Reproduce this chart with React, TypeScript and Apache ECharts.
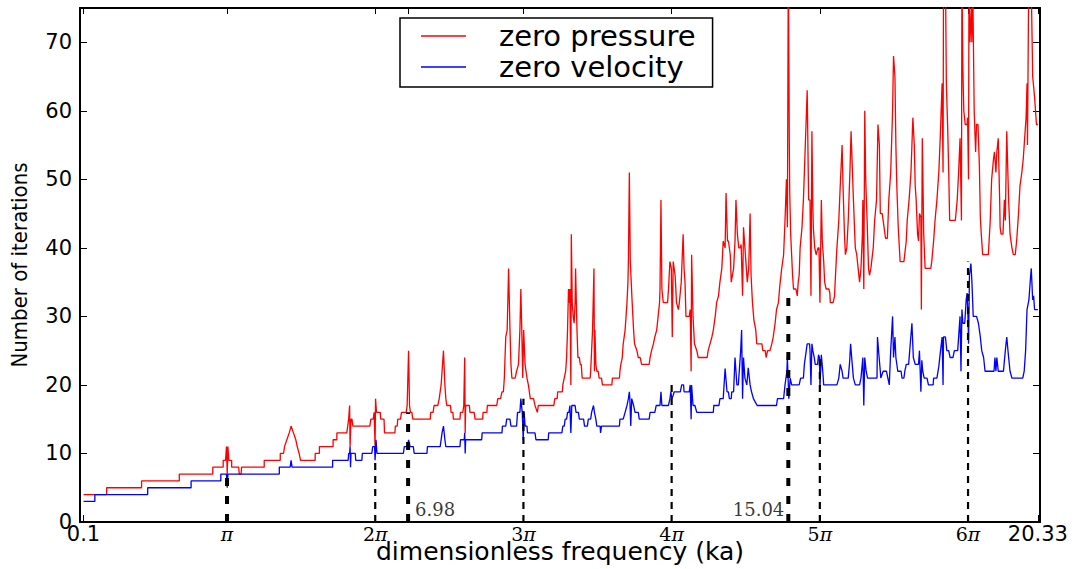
import React, { useEffect, useRef } from "react";
import * as echarts from "echarts";

const PI = Math.PI;

const xTickValues = [0.1, PI, 2 * PI, 3 * PI, 4 * PI, 5 * PI, 6 * PI, 20.33];
const xTickLabels = ["0.1", "π", "2π", "3π", "4π", "5π", "6π", "20.33"];
const xExtraTicks = [6.98, 15.04];
const yTickValues = [0, 10, 20, 30, 40, 50, 60, 70];
const seriesNames = ["zero pressure", "zero velocity"];

const guideX = [PI, 2 * PI, 6.98, 3 * PI, 4 * PI, 15.04, 5 * PI, 6 * PI];
const guideTop = [7, 9, 16, 18, 20, 34, 24.5, 38];
const guideBold = [true, false, true, false, false, true, false, false];

const annotationX = [6.98, 15.04];
const annotationText = ["6.98", "15.04"];
const annotationSide = ["right", "left"];

const zeroPressure: number[][] = [
  [0.1,4],[0.59,4],[0.59,5],[1.33,5],[1.33,6],[2.13,6],[2.13,7],[2.84,7],[2.84,8],[3.06,8],[3.06,9],[3.11,9],[3.13,11],[3.146,7],[3.16,11],[3.18,9],[3.24,9],[3.24,8],[3.39,8],[3.40,7],[3.44,7],[3.45,8],[3.93,8],[3.93,9],[4.27,9],[4.27,10],[4.34,10],[4.36,11],[4.41,12],[4.46,13],[4.50,14],[4.55,13],[4.60,12],[4.63,11],[4.67,10],[4.70,9],[5.01,9],[5.01,10],[5.10,10],[5.10,11],[5.39,11],[5.39,12],[5.47,12],[5.47,13],[5.68,13],[5.70,14],[5.72,15],[5.74,17],[5.75,11],[5.77,15],[5.79,15],[5.81,14],
  [6.17,14],[6.19,15],[6.24,15],[6.26,16],[6.28,11],[6.29,18],[6.31,16],[6.39,16],[6.40,15],[6.47,15],[6.48,13],[6.70,13],[6.71,14],[6.75,14],[6.76,15],[6.82,15],[6.84,16],[6.94,16],[6.96,17],[6.99,25],[7.01,17],[7.03,16],[7.06,16],[7.08,15],[7.45,15],[7.46,16],[7.51,16],[7.53,17],[7.61,17],[7.64,18],[7.68,20],[7.73,25],[7.76,20],[7.78,18],[7.80,17],[7.88,17],[7.89,16],[7.93,16],[7.94,15],[8.08,15],[8.09,16],[8.14,16],[8.16,17],[8.18,24],[8.19,13],[8.20,17],[8.28,17],[8.29,16],[8.38,16],[8.40,15],[8.56,15],[8.57,16],[8.65,16],[8.66,17],[8.86,17],[8.88,18],[8.94,18],[8.97,19],[9.00,19],[9.02,21],[9.05,27],[9.08,28],[9.11,37],[9.14,28],[9.16,23],[9.18,21],[9.25,21],[9.28,22],[9.32,23],[9.35,28],[9.37,34],[9.39,28],[9.41,21],[9.43,28],[9.46,23],[9.50,21],[9.53,20],[9.57,18],[9.64,18],[9.67,17],[9.72,16],[9.74,17],[10.07,17],[10.09,18],[10.14,18],[10.15,19],[10.25,19],
  [10.26,20],[10.29,21],[10.32,22],[10.34,24],[10.36,28],[10.38,34],[10.40,32],[10.41,34],[10.43,20],[10.44,42],[10.46,32],[10.48,30],[10.50,29],[10.52,32],[10.53,37],[10.56,28],[10.58,24],[10.61,24],[10.63,23],[10.65,23],[10.66,22],[10.67,21],[10.84,21],[10.85,22],[10.87,25],[10.89,28],[10.92,37],[10.93,22],[10.94,28],[10.96,23],[10.98,22],[11.01,22],[11.03,21],[11.08,21],[11.10,20],[11.30,20],[11.31,21],[11.46,21],[11.47,22],[11.49,23],[11.52,24],[11.54,26],[11.58,28],[11.62,32],[11.64,35],[11.65,38],[11.67,51],[11.69,38],[11.71,35],[11.73,32],[11.76,28],[11.78,26],[11.83,25],[11.86,24],[11.90,24],[11.93,23],[12.09,23],[12.11,24],[12.14,25],[12.18,26],[12.21,27],[12.25,28],[12.28,30],[12.31,32],[12.32,34],[12.34,47],[12.36,34],[12.39,32],[12.48,32],[12.50,34],[12.53,38],[12.56,37],[12.58,27],[12.60,38],[12.64,36],[12.67,32],[12.71,31],[12.73,32],[12.77,35],[12.81,42],[12.83,37],[12.85,35],[12.87,30],[12.94,30],[12.96,31],[12.98,22],[12.99,39],[13.02,30],[13.05,26],[13.10,25],[13.13,24],[13.32,24],[13.34,25],[13.38,26],[13.42,27],[13.45,28],[13.49,30],[13.52,32],[13.56,33],[13.59,35],[13.63,37],[13.66,41],[13.70,40],[13.72,48],[13.75,41],[13.77,41],[13.81,39],[13.83,35],[13.88,37],[13.91,41],[13.93,47],[13.96,42],[13.99,40],[14.02,40],[14.04,40.5],[14.07,33],[14.09,43],[14.12,40],[14.16,36],[14.17,35],[14.20,37],[14.23,45],[14.25,36],[14.28,32],[14.31,29.5],[14.35,28],[14.37,26],[14.48,26],[14.50,25],[14.55,25],[14.57,24],[14.60,25],[14.65,25],[14.69,26],[14.72,27],[14.76,29],[14.79,31],[14.83,32],[14.86,34.5],[14.90,37],[14.94,39],[14.97,44],[14.99,48],[15.00,50],[15.02,43],[15.04,82],
  [15.06,56],[15.07,48],[15.09,42],[15.11,39],[15.13,36],[15.15,34],[15.20,34],[15.23,33],[15.25,35],[15.27,36],[15.29,40],[15.33,43],[15.36,47],[15.44,63],[15.47,47],[15.50,47],[15.52,33],[15.54,57],[15.56,46],[15.57,43],[15.60,40],[15.63,39],[15.67,40],[15.69,40],[15.71,32],[15.74,47],[15.76,41],[15.79,38],[15.81,35],[15.84,34],[15.90,34],[15.92,33.4],[15.93,32],[15.99,32],[16.02,33],[16.04,36],[16.07,40],[16.11,44],[16.14,49],[16.18,55],[16.20,49],[16.23,42],[16.25,39],[16.28,40],[16.31,44],[16.35,52],[16.37,57],[16.39,53],[16.42,47],[16.46,40],[16.49,39],[16.52,37],[16.55,35],[16.58,37],[16.61,42],[16.62,47],[16.64,34],[16.66,60],[16.68,50],[16.71,44],[16.74,37],[16.76,36],[16.79,37],[16.84,40],[16.87,44],[16.91,47],[16.94,58],[16.97,55],[16.99,45],[17.03,45],[17.07,43],[17.10,41.4],[17.14,41.4],[17.17,47],[17.21,51],[17.25,60],[17.27,68],[17.30,65],[17.32,55],[17.34,49],[17.37,43],[17.41,38],[17.49,38],[17.54,41],[17.56,44],[17.60,47],[17.64,51],[17.66,55],[17.68,59],[17.71,55],[17.73,49],[17.75,47],[17.78,42],[17.80,41],[17.82,45],[17.85,44.5],[17.86,31],[17.88,56],[17.91,42],[17.94,37],[18.06,37],[18.08,38],[18.12,41],[18.15,44],[18.19,47],[18.23,51],[18.26,56],[18.30,64],[18.32,51],[18.33,80],[18.37,80],[18.39,64],[18.42,57],[18.44,51],[18.46,44],[18.58,44],[18.62,47],[18.65,51],[18.68,56],[18.71,44],[18.72,80],[18.74,66],[18.76,60],[18.79,58],[18.83,58],[18.84,59],[18.86,50],[18.87,80],[18.89,70],[18.92,75],[18.93,70],[18.95,78],[18.98,60],[19.01,54],[19.02,54],[19.03,58],[19.06,58],[19.09,52],[19.11,44.5],[19.13,42],[19.16,39],[19.28,39],[19.32,44],[19.35,50],[19.39,53],[19.41,54],[19.44,51],[19.46,54],[19.49,56],[19.52,47],[19.53,43],[19.55,42],[19.59,42],[19.62,47],[19.64,44],[19.67,57],[19.71,47],[19.74,42],[19.78,40],[19.81,39],[19.85,39],[19.88,41],[19.92,45],[19.95,49],[19.99,51],[20.02,53],[20.06,57],[20.08,59],[20.10,64],[20.11,55],[20.13,74],[20.15,80],[20.19,78],[20.22,65],[20.26,62],[20.30,58],[20.33,58]
];

const zeroVelocity: number[][] = [
  [0.1,3],[0.34,3],[0.34,4],[1.46,4],[1.46,5],[2.38,5],[2.38,6],[3.01,6],[3.01,7],[3.13,7],[3.146,5],[3.16,7],[4.25,7],[4.25,8],[4.48,8],[4.50,9],[4.52,8],[5.38,8],[5.38,9],[5.71,9],[5.72,10],[5.74,10],[5.75,11],[5.76,8],[5.77,10],[5.86,10],[5.87,9],[6.00,9],[6.01,10],[6.21,10],[6.23,11],[6.27,11],[6.28,9],[6.30,12],[6.32,10],[6.88,10],[6.90,11],[6.97,11],[6.99,12],[7.02,11],[7.09,11],[7.11,10],[7.38,10],[7.39,11],[7.66,11],[7.70,13],[7.73,14],[7.76,12],[7.78,11],[8.08,11],[8.09,12],[8.17,12],[8.18,13],[8.19,10],[8.20,12],[8.54,12],[8.55,13],[8.97,13],[8.98,14],[9.05,14],[9.07,15],[9.14,15],[9.16,14],[9.28,14],[9.30,16],[9.35,16],[9.37,18],[9.40,16],[9.42,12],[9.44,16],[9.46,14],[9.50,14],[9.51,13],[9.67,13],[9.69,12],[9.95,12],[9.96,13],[10.24,13],
  [10.26,14],[10.29,14],[10.31,15],[10.34,15],[10.36,16],[10.39,16],[10.41,17],[10.43,13],[10.45,17],[10.52,17],[10.54,16],[10.59,16],[10.61,15],[10.70,15],[10.72,14],[10.78,14],[10.80,15],[10.85,15],[10.87,16],[10.91,17],[10.93,16],[10.96,15],[10.98,14],[11.05,14],[11.06,13],[11.08,14],[11.46,14],[11.47,15],[11.54,15],[11.58,16],[11.62,17],[11.65,18],[11.67,19],[11.68,18],[11.70,14],[11.72,18],[11.76,17],[11.79,16],[11.86,16],[11.88,15],[12.09,15],[12.11,16],[12.21,16],[12.24,17],[12.32,17],[12.34,19],[12.36,17],[12.50,17],[12.53,18],[12.55,19],[12.57,18],[12.60,18.5],[12.62,19],[12.75,19],[12.78,20],[12.82,20],[12.83,19],[12.94,19],[12.96,20],[12.98,15],[12.99,20],[13.02,17],[13.06,17],[13.10,16],[13.45,16],[13.46,17],[13.57,17],[13.59,18],[13.66,18],[13.70,22.4],[13.74,19],[13.77,19],[13.79,18],[13.83,18],[13.84,19],[13.88,19],[13.91,24],[13.95,20],[13.98,20],[14.03,25],[14.05,28],[14.07,18],[14.09,24],[14.12,21],[14.16,20],[14.19,22.5],[14.23,20],[14.26,19],[14.30,18],[14.34,17.5],[14.38,17],[14.79,17],[14.81,18],[14.94,18],[14.97,20],[15.01,22],[15.02,24],[15.05,18],[15.08,21],[15.11,20],[15.27,20],[15.30,21],[15.36,21],[15.38,23],[15.42,25],[15.44,26],[15.49,26],[15.50,25],[15.52,20],[15.54,26],[15.56,25],[15.59,24],[15.61,23],[15.66,23],[15.68,24.4],[15.70,24],[15.71,19.5],[15.74,24.4],[15.77,22],[15.79,20],[16.07,20],[16.11,21],[16.14,23],[16.18,22],[16.20,21],[16.31,21],[16.34,23.4],[16.36,26],[16.39,23.4],[16.42,21],[16.46,20],[16.55,20],[16.58,21],[16.62,24],[16.64,17],[16.66,24],[16.69,22],[16.72,21],[16.92,21],[16.93,27],[16.96,24.4],[16.99,22],[17.00,21],[17.05,22],[17.12,22],[17.15,21],[17.18,20],[17.21,25],[17.25,30],[17.27,24],[17.30,27],[17.32,24],[17.36,22],[17.43,22],[17.45,21],[17.49,21],[17.51,22],[17.54,23],[17.59,23],[17.62,25.6],[17.66,29],[17.69,24],[17.73,23],[17.80,23],[17.82,25],[17.85,19],[17.87,23.6],[17.89,22],[17.92,21],[17.98,21],[18.01,20],[18.11,20],[18.12,21],[18.19,21],[18.23,22.7],[18.26,24.6],[18.30,27],[18.32,20],[18.33,27],[18.37,27],[18.40,25],[18.44,25],[18.47,24],[18.53,24],[18.56,25],[18.63,25],[18.66,28],[18.68,30],[18.70,22],[18.72,31],[18.74,29],[18.78,29],[18.81,32.4],[18.83,33.4],[18.85,29.5],[18.86,26],[18.88,36],[18.91,37.7],[18.93,35.3],[18.96,30],[19.03,30],[19.07,29],[19.11,27],[19.14,25],[19.18,24],[19.21,22],[19.40,22],[19.42,24],[19.44,22],[19.46,24],[19.49,22],[19.60,22],[19.64,25],[19.67,27],[19.71,24],[19.74,22],[19.78,21],[20.01,21],[20.04,22],[20.07,25],[20.10,31],[20.14,32.4],[20.17,35.3],[20.19,37],[20.22,32.4],[20.24,33],[20.26,31],[20.33,31]
];

const SANS = "'DejaVu Sans', Verdana, sans-serif";
const SERIF = "'DejaVu Serif', 'Liberation Serif', serif";
const NARROW = "'Liberation Sans Narrow', 'DejaVu Sans Condensed', 'Open Sans', sans-serif";

function xLabel(v: number): string {
  const i = xTickValues.findIndex((t) => Math.abs(t - v) < 1e-6);
  if (i < 0) return "";
  const lab = xTickLabels[i];
  if (lab.indexOf("π") >= 0) {
    const k = lab.replace("π", "");
    return (k ? `{m|${k}}` : "") + "{i|π}";
  }
  return `{s|${lab}}`;
}

export default function App() {
  const ref = useRef<HTMLDivElement>(null);
  useEffect(() => {
    document.body.style.margin = "0";
    const chart = echarts.init(ref.current!, null, { renderer: "svg" });
    const allXTicks = [...xTickValues, ...xExtraTicks].sort((a, b) => a - b);
    const axisLineStyle = { color: "#000", width: 2 };
    const tickStyle = { color: "#000", width: 1 };
    const xCommon = { type: "value", min: 0.025, max: 20.375, splitLine: { show: false } };
    const yCommon = { type: "value", min: 0, max: 75, splitLine: { show: false } };

    const option: any = {
      animation: false,
      backgroundColor: "#fff",
      grid: { left: 80, right: 42, top: 8, bottom: 47, containLabel: false, outerBoundsMode: "none" },
      legend: {
        orient: "vertical",
        left: 400,
        top: 18,
        data: seriesNames,
        icon: "rect",
        itemWidth: 45,
        itemHeight: 1.3,
        itemGap: 0,
        padding: [2.5, 17, 4.5, 21],
        borderColor: "#000",
        borderWidth: 1.5,
        selectedMode: false,
        textStyle: { fontFamily: SANS, fontSize: 29, color: "#000", lineHeight: 31, padding: [0, 0, 0, 28] },
      },
      xAxis: [
        {
          ...xCommon,
          position: "bottom",
          name: "dimensionless frequency (ka)",
          nameLocation: "middle",
          nameGap: 19,
          nameMoveOverlap: false,
          nameTextStyle: { fontFamily: SANS, fontSize: 25, lineHeight: 20, color: "#000" },
          axisLine: { show: true, onZero: false, lineStyle: axisLineStyle },
          axisTick: { show: true, inside: true, length: 7, lineStyle: tickStyle, customValues: allXTicks },
          axisLabel: {
            show: true,
            margin: 5,
            customValues: xTickValues,
            formatter: xLabel,
            rich: {
              s: { fontFamily: SANS, fontSize: 21, lineHeight: 14, color: "#000" },
              m: { fontFamily: SERIF, fontSize: 19, lineHeight: 14, color: "#000" },
              i: { fontFamily: SERIF, fontStyle: "italic", fontSize: 19, lineHeight: 14, color: "#000" },
            },
          },
        },
        {
          ...xCommon,
          position: "top",
          axisLine: { show: true, onZero: false, lineStyle: axisLineStyle },
          axisTick: { show: true, inside: true, length: 6, lineStyle: tickStyle, customValues: allXTicks },
          axisLabel: { show: false },
        },
      ],
      yAxis: [
        {
          ...yCommon,
          position: "left",
          name: "Number of iterations",
          nameLocation: "middle",
          nameGap: 50,
          nameMoveOverlap: false,
          nameTextStyle: { fontFamily: NARROW, fontSize: 22, color: "#000" },
          axisLine: { show: true, onZero: false, lineStyle: axisLineStyle },
          axisTick: { show: true, inside: true, length: 7, lineStyle: tickStyle, customValues: yTickValues },
          axisLabel: { show: true, margin: 8, customValues: yTickValues, fontFamily: SANS, fontSize: 21, color: "#000" },
        },
        {
          ...yCommon,
          position: "right",
          axisLine: { show: true, onZero: false, lineStyle: axisLineStyle },
          axisTick: { show: true, inside: true, length: 7, lineStyle: tickStyle, customValues: yTickValues },
          axisLabel: { show: false },
        },
      ],
      series: [
        {
          name: seriesNames[0],
          type: "line",
          data: zeroPressure,
          showSymbol: false,
          symbol: "none",
          color: "#ff0000",
          lineStyle: { color: "#ff0000", width: 1.3 },
          clip: true,
          z: 2,
        },
        {
          name: seriesNames[1],
          type: "line",
          data: zeroVelocity,
          showSymbol: false,
          symbol: "none",
          color: "#0000ff",
          lineStyle: { color: "#0000ff", width: 1.3 },
          clip: true,
          z: 3,
        },
        ...guideX.map((x, i) => ({
          type: "line",
          data: [
            [x, 0],
            [x, guideTop[i]],
          ],
          showSymbol: false,
          symbol: "none",
          silent: true,
          z: 4,
          lineStyle: {
            color: "#000",
            width: guideBold[i] ? 4 : 2.2,
            type: guideBold[i] ? [8, 10] : [7, 6],
          },
        })),
        {
          type: "scatter",
          symbolSize: 0,
          silent: true,
          z: 5,
          itemStyle: { color: "rgba(0,0,0,0)" },
          data: annotationX.map((x, i) => ({
            value: [x, 0],
            label: {
              show: true,
              formatter: annotationText[i],
              position: annotationSide[i] === "right" ? [7, -4] : [-4, -4],
              align: annotationSide[i] === "right" ? "left" : "right",
              verticalAlign: "bottom",
              fontFamily: SERIF,
              fontSize: 18,
              color: "#000",
            },
          })),
        },
      ],
    };
    chart.setOption(option);
    return () => chart.dispose();
  }, []);
  return <div ref={ref} style={{ width: 1082, height: 569 }} />;
}
